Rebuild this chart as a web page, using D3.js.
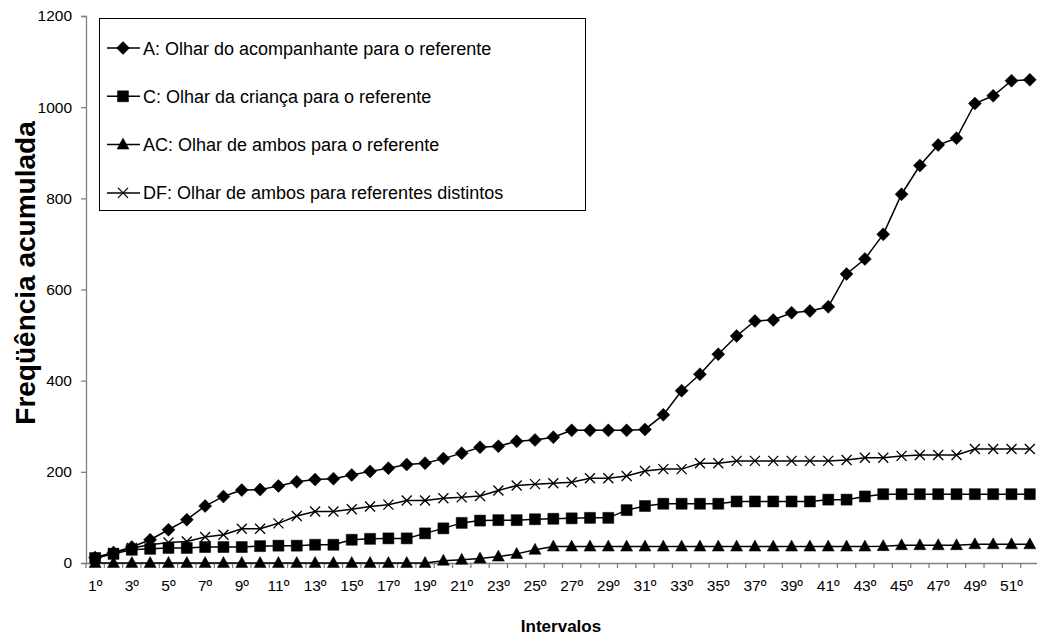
<!DOCTYPE html>
<html><head><meta charset="utf-8">
<script src="https://cdn.jsdelivr.net/npm/d3@7"></script>
<style>
html,body{margin:0;padding:0;background:#fff;}
svg{display:block;}
text{font-family:"Liberation Sans",Arial,sans-serif;fill:#000;}
</style></head>
<body><svg id="c" width="1037" height="637"></svg>
<script>
const categories = d3.range(1, 53).map(d => d + "º");
const seriesA  = [12,23,35,51,73,95,125,146,160,161,169,178,183,185,193,201,208,216,219,229,241,254,256,267,270,276,291,291,291,291,293,325,378,414,458,498,531,533,549,553,562,634,667,721,809,872,917,932,1008,1025,1058,1060];
const seriesC  = [11,20,29,31,33,33,35,35,35,37,38,38,40,40,51,53,54,54,65,76,88,93,94,94,96,97,98,99,99,116,125,130,130,130,130,135,135,135,135,135,139,139,146,151,151,151,151,151,151,151,151,151];
const seriesAC = [0,0,0,0,0,0,0,0,0,0,0,0,0,0,0,0,0,0,0,5,7,10,14,20,29,36,36,36,36,36,36,36,36,36,36,36,36,36,36,36,36,36,36,37,39,39,39,39,41,41,41,41];
const seriesDF = [10,22,33,40,45,47,57,62,75,75,87,103,113,113,118,124,128,137,137,142,144,147,159,170,173,175,177,186,186,191,202,206,206,219,219,224,224,224,224,224,224,226,231,231,235,237,237,237,250,250,250,250];
const yTicks = [0,200,400,600,800,1000,1200];
const legendLabels = [
  ["A", ": Olhar do acompanhante para o referente"],
  ["C", ": Olhar da criança para o referente"],
  ["AC", ": Olhar de ambos para o referente"],
  ["DF", ": Olhar de ambos para referentes distintos"]
];

const svg = d3.select("#c");
const x = d3.scaleBand().domain(categories).range([86, 1039]).padding(0);
const y = d3.scaleLinear().domain([0, 1200]).range([563, 16]);
const cx = c => x(c) + x.bandwidth() / 2;

const axisColor = "#808080";

// Y axis
const yAxis = svg.append("g").attr("transform", "translate(86,0)")
  .call(d3.axisLeft(y).tickValues(yTicks).tickFormat(d3.format("d")).tickSize(5).tickPadding(9));
yAxis.select(".domain").attr("stroke", axisColor).attr("stroke-width", 1.3);
yAxis.selectAll(".tick line").attr("stroke", axisColor).attr("stroke-width", 1.3);
yAxis.selectAll("text").attr("font-size", 15.5).attr("font-family", "Liberation Sans, Arial").attr("fill", "#000");

// X axis
const xAxis = svg.append("g").attr("transform", "translate(0,563)")
  .call(d3.axisBottom(x).tickSize(0).tickPadding(17)
    .tickFormat((d, i) => (i % 2 === 0 ? d : "")));
xAxis.select(".domain").attr("stroke", axisColor).attr("stroke-width", 1.3);
xAxis.selectAll("text").attr("font-size", 15.5).attr("font-family", "Liberation Sans, Arial").attr("fill", "#000");
// boundary ticks (between categories)
svg.append("g").selectAll("line").data(categories).join("line")
  .attr("x1", d => x(d)).attr("x2", d => x(d))
  .attr("y1", 563).attr("y2", 568)
  .attr("stroke", axisColor).attr("stroke-width", 1.3);

// Axis titles
svg.append("text").attr("transform", "translate(35,273) rotate(-90)")
  .attr("text-anchor", "middle").attr("font-weight", "bold").attr("font-size", 28)
  .text("Freqüência acumulada");
svg.append("text").attr("x", 561).attr("y", 632)
  .attr("text-anchor", "middle").attr("font-weight", "bold").attr("font-size", 17)
  .text("Intervalos");

// Markers
function markerPath(type) {
  if (type === "diamond") return "M0,-6.5L6.5,0L0,6.5L-6.5,0Z";
  if (type === "square") return "M-5.5,-5.5H5.5V5.5H-5.5Z";
  if (type === "triangle") return "M0,-6.5L6,4.5H-6Z";
  return "M-5,-5L5,5M-5,5L5,-5";
}
const series = [
  {name: "A", values: seriesA, marker: "diamond"},
  {name: "C", values: seriesC, marker: "square"},
  {name: "AC", values: seriesAC, marker: "triangle"},
  {name: "DF", values: seriesDF, marker: "cross"}
];
const line = d3.line().x((d, i) => cx(categories[i])).y(d => y(d));

series.slice().reverse().forEach(s => {
  const g = svg.append("g");
  g.append("path").attr("d", line(s.values)).attr("fill", "none")
    .attr("stroke", "#000").attr("stroke-width", 1.5);
  g.selectAll("path.m").data(s.values).join("path").attr("class", "m")
    .attr("transform", (d, i) => `translate(${cx(categories[i])},${y(d)})`)
    .attr("d", markerPath(s.marker))
    .attr("fill", s.marker === "cross" ? "none" : "#000")
    .attr("stroke", "#000").attr("stroke-width", s.marker === "cross" ? 1.3 : 0.5);
});

// Legend
const lg = svg.append("g");
lg.append("rect").attr("x", 99.5).attr("y", 18.5).attr("width", 486).attr("height", 192)
  .attr("fill", "#fff").attr("stroke", "#000").attr("stroke-width", 1);
series.forEach((s, i) => {
  const yy = 48 + i * 48.3;
  lg.append("line").attr("x1", 107).attr("x2", 140).attr("y1", yy).attr("y2", yy)
    .attr("stroke", "#000").attr("stroke-width", 1.5);
  lg.append("path").attr("transform", `translate(123,${yy})`).attr("d", markerPath(s.marker))
    .attr("fill", s.marker === "cross" ? "none" : "#000")
    .attr("stroke", "#000").attr("stroke-width", s.marker === "cross" ? 1.3 : 0.5);
  const t = lg.append("text").attr("x", 143).attr("y", yy + 6.5).attr("font-size", 18);
  t.append("tspan").text(legendLabels[i][0]);
  t.append("tspan").text(legendLabels[i][1]);
});
</script></body></html>
